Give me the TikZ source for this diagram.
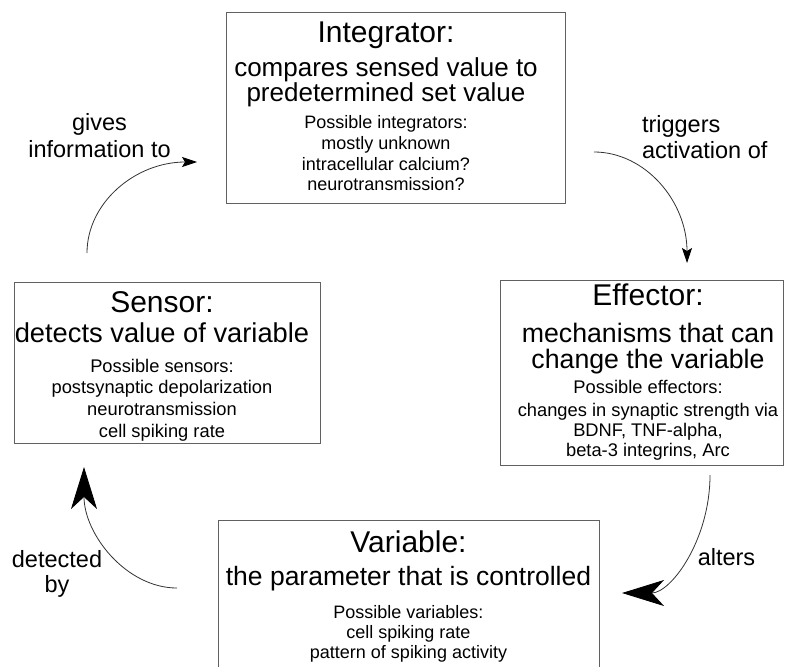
\documentclass[tikz,border=0pt]{standalone}
\usepackage{fontspec}
\setmainfont{Liberation Sans}
\usetikzlibrary{arrows.meta}
\newdimen\txoff
\newcommand\tline[3]{\vskip#2pt\hbox to\hsize{\hss\hskip2\txoff\relax\fontsize{#1}{#1}\selectfont\smash{#3}\hss}}
\newcommand\tlineL[3]{\vskip#2pt\hbox to\hsize{\fontsize{#1}{#1}\selectfont\smash{#3}\hss}}
\newcommand\boxtext[4]{\vbox to #2pt{\hsize=#1pt\txoff=#3pt\offinterlineskip #4\vss}}
\tikzset{
  box/.style={draw=black!62, line width=0.9pt, inner sep=0pt, outer sep=0pt},
  lbl/.style={inner sep=0pt, outer sep=0pt},
  conn/.style={draw=black!80, line width=0.8pt},
  smalltip/.style={-{Stealth[length=15pt,width=10pt,inset=3pt,black]}},
  bigtip/.style={-{Stealth[length=42pt,width=26pt,inset=12pt,black]}}
}
\begin{document}
\begin{tikzpicture}[x=1pt,y=-1pt]
\useasboundingbox (0,0) rectangle (786,666);
\clip (0,0) rectangle (786,666);
\fill[white] (0,0) rectangle (786,666);

% Integrator
\node[box, anchor=north west] (integrator) at (226,12) {\boxtext{339}{191}{-9.5}{%
  \tline{30}{30}{Integrator:}%
  \tline{26}{34}{compares sensed value to}%
  \tline{26}{25}{predetermined set value}%
  \tline{18}{27}{Possible integrators:}%
  \tline{18}{21}{mostly unknown}%
  \tline{18}{21}{intracellular calcium?}%
  \tline{18}{20}{neurotransmission?}}};

% Effector
\node[box, anchor=north west] (effector) at (500,280) {\boxtext{283}{185}{6.5}{%
  \tline{30}{25}{Effector:}%
  \tline{26.7}{37}{mechanisms that can}%
  \tline{26.7}{26}{change the variable}%
  \tline{18.3}{25}{Possible effectors:}%
  \tline{18.3}{23.5}{changes in synaptic strength via}%
  \tline{18.3}{20}{BDNF, TNF-alpha,}%
  \tline{18.3}{20}{beta-3 integrins, Arc}}};

% Sensor
\node[box, anchor=north west] (sensor) at (14,282) {\boxtext{306}{161}{-5}{%
  \tline{30}{30}{Sensor:}%
  \tline{27.3}{30}{detects value of variable}%
  \tline{18.3}{30}{Possible sensors:}%
  \tline{18.3}{21}{postsynaptic depolarization}%
  \tline{18.3}{22}{neurotransmission}%
  \tline{18.3}{22}{cell spiking rate}}};

% Variable
\node[box, anchor=north west] (variable) at (218,520) {\boxtext{381}{170}{0}{%
  \tline{30}{32}{Variable:}%
  \tline{26.5}{33}{the parameter that is controlled}%
  \tline{18}{33}{Possible variables:}%
  \tline{18}{20}{cell spiking rate}%
  \tline{18}{20}{pattern of spiking activity}}};

% Labels
\node[lbl, anchor=north] (lgive) at (99.5,130) {\boxtext{200}{27}{0}{%
  \tline{23.5}{0}{gives}\tline{23.5}{27}{information to}}};
\node[lbl, anchor=north west] (ltrig) at (642,132) {\boxtext{140}{26}{0}{%
  \tlineL{23.5}{0}{triggers}\tlineL{23.5}{26}{activation of}}};
\node[lbl, anchor=north] (lalter) at (726.5,565) {\boxtext{100}{1}{0}{%
  \tline{23.5}{0}{alters}}};
\node[lbl, anchor=north] (ldetect) at (57,567) {\boxtext{110}{25}{0}{%
  \tline{23.5}{0}{detected}\tline{23.5}{25}{by}}};

% Connector end points
\coordinate (g1) at (87,253);
\coordinate (g2) at (197,162);
\coordinate (t1) at (594,152);
\coordinate (t2) at (687,263);
\coordinate (a1) at (710,475);
\coordinate (a2) at (622,593);
\coordinate (d1) at (177,588);
\coordinate (d2) at (84,467);

\draw[conn, smalltip] (g1) .. controls (87,203) and (135,162) .. (g2);
\draw[conn, smalltip] (t1) .. controls (645,152) and (687,201) .. (t2);
\draw[conn, bigtip] (a1) .. controls (710,540) and (671,593) .. (a2);
\draw[conn, bigtip] (d1) .. controls (126,588) and (84,534) .. (d2);
\end{tikzpicture}
\end{document}
